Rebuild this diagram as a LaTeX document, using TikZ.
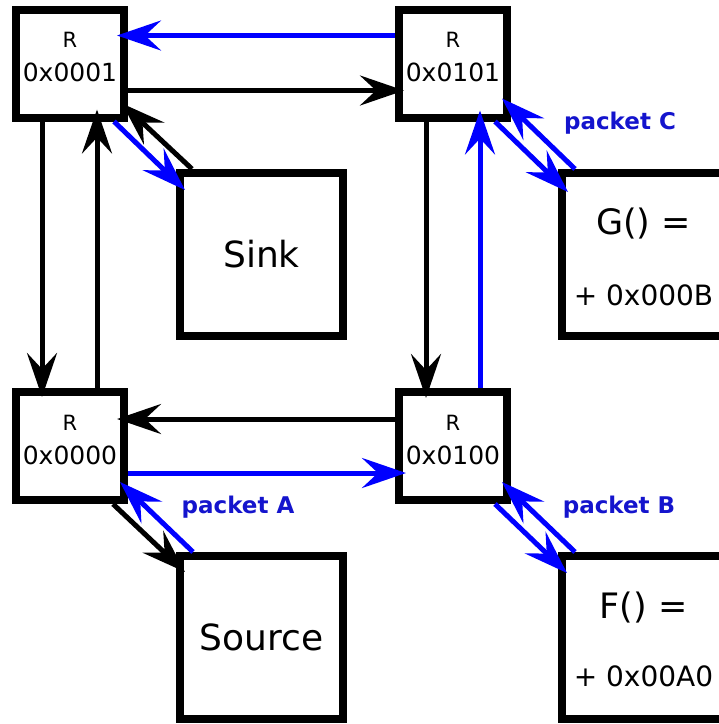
\documentclass[tikz,border=0pt]{standalone}
\usepackage{fontspec}
\setmainfont{DejaVu Sans}
\usetikzlibrary{arrows.meta}
\definecolor{pktblue}{RGB}{20,20,205}

\begin{document}
\begin{tikzpicture}[x=1pt,y=-1pt,
	router_node/.style={draw,line width=8pt,minimum size=108pt,inner sep=0pt,align=center,font=\fontsize{25}{34}\selectfont},
	box_node/.style={draw,line width=8pt,minimum size=163pt,inner sep=0pt,font=\fontsize{36}{43}\selectfont},
	func_node/.style={box_node,align=center,font=\fontsize{28}{70}\selectfont},
	black_arrow/.style={line width=5pt,-{Stealth[length=44pt,width=30pt,inset=16pt]}},
	blue_arrow/.style={black_arrow,blue},
	packet_label/.style={text=pktblue,font=\fontsize{23}{28}\selectfont\bfseries}]

		\useasboundingbox (0,0) rectangle (719,724);
		\clip (0,0) rectangle (719,724);

		\node[router_node] (r0001) at (70,63.5) {{\fontsize{21}{24}\selectfont R}\\0x0001\rule[-13pt]{0pt}{13pt}};
		\node[router_node] (r0101) at (453,63.5) {{\fontsize{21}{24}\selectfont R}\\0x0101\rule[-13pt]{0pt}{13pt}};
		\node[router_node] (r0000) at (70,446) {{\fontsize{21}{24}\selectfont R}\\0x0000\rule[-13pt]{0pt}{13pt}};
		\node[router_node] (r0100) at (453,446) {{\fontsize{21}{24}\selectfont R}\\0x0100\rule[-13pt]{0pt}{13pt}};

		\node[box_node] (sink) at (261.5,254.5) {Sink};
		\node[box_node] (source) at (261.5,637.5) {Source};
		\node[func_node,font=\fontsize{28}{71}\selectfont] (g) at (643.5,254.5) {{\fontsize{35}{40}\selectfont\rule{0pt}{31pt}G() =}\\+ 0x000B};
		\node[func_node,font=\fontsize{28}{68}\selectfont] (f) at (643.5,637.5) {{\fontsize{35}{40}\selectfont\rule{0pt}{31pt}F() =}\\+ 0x00A0};

		\node[packet_label] (pktc) at (620,123) {packet C};
		\node[packet_label] (pkta) at (238,507) {packet A};
		\node[packet_label] (pktb) at (619,507) {packet B};

		\draw[blue_arrow] ([yshift=28pt]r0101.west) -- ([yshift=28pt,xshift=-11pt]r0001.east);
		\draw[black_arrow] ([yshift=-27pt]r0001.east) -- ([yshift=-27pt,xshift=9pt]r0101.west);
		\draw[black_arrow] ([xshift=-28pt]r0001.south) -- ([xshift=-28pt,yshift=-9pt]r0000.north);
		\draw[black_arrow] ([xshift=27pt]r0000.north) -- ([xshift=27pt,yshift=12pt]r0001.south);
		\draw[black_arrow] ([yshift=27pt]r0100.west) -- ([yshift=27pt,xshift=-11pt]r0000.east);
		\draw[blue_arrow] ([yshift=-27pt]r0000.east) -- ([yshift=-27pt,xshift=11pt]r0100.west);
		\draw[black_arrow] ([xshift=-27pt]r0101.south) -- ([xshift=-27pt,yshift=-10pt]r0100.north);
		\draw[blue_arrow] ([xshift=27pt]r0100.north) -- ([xshift=27pt,yshift=11pt]r0101.south);

		\draw[blue_arrow] ([xshift=-14pt]r0001.south east) -- ([xshift=9pt,yshift=-21pt]sink.north west);
		\draw[black_arrow] ([xshift=16pt]sink.north west) -- ([xshift=-6pt,yshift=18pt]r0001.south east);
		\draw[blue_arrow] ([xshift=-16pt]r0101.south east) -- ([xshift=10pt,yshift=-23pt]g.north west);
		\draw[blue_arrow] ([xshift=17pt]g.north west) -- ([xshift=-9pt,yshift=23pt]r0101.south east);
		\draw[black_arrow] ([xshift=-15pt]r0000.south east) -- ([xshift=9pt,yshift=-20pt]source.north west);
		\draw[blue_arrow] ([xshift=17pt]source.north west) -- ([xshift=-8pt,yshift=22pt]r0000.south east);
		\draw[blue_arrow] ([xshift=-16pt]r0100.south east) -- ([xshift=9pt,yshift=-21pt]f.north west);
		\draw[blue_arrow] ([xshift=17pt]f.north west) -- ([xshift=-9pt,yshift=22pt]r0100.south east);
		\end{tikzpicture}
\end{document}
